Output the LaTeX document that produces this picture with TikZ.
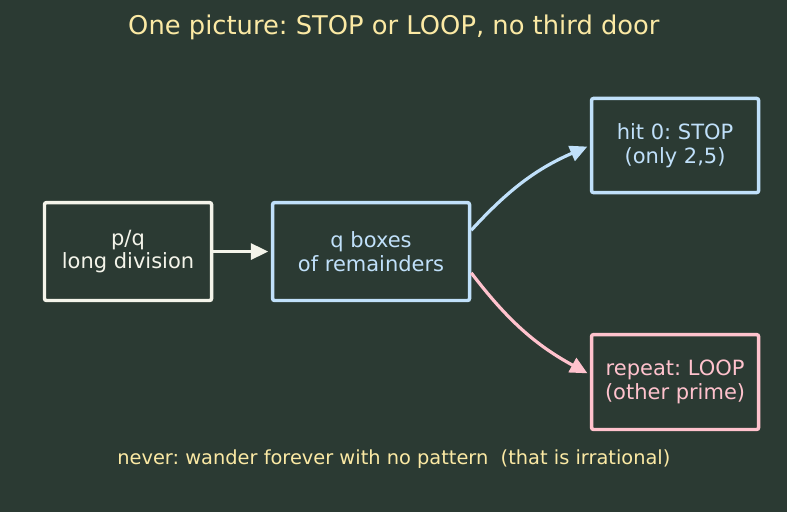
\documentclass[tikz,border=0pt]{standalone}
\usepackage{xcolor}
\usepackage{fontspec}
\setmainfont{DejaVu Sans}
\usepackage{tikz}
\usetikzlibrary{arrows.meta}
\definecolor{board}{HTML}{2B3A33}
\definecolor{chalk}{HTML}{F4F4EA}
\definecolor{sky}{HTML}{C0E0FA}
\definecolor{rose}{HTML}{FFC2CD}
\definecolor{butter}{HTML}{FBE9A4}
\frenchspacing

\begin{document}
\begin{tikzpicture}[box/.style={draw=#1,text=#1,line width=2.6pt,rounded corners=1.5pt,align=center,minimum width=4.42cm,minimum height=2.59cm,font=\fontsize{15.8}{18}\selectfont,inner sep=0pt},edge/.style={-{Triangle[length=13pt,width=12pt]},draw=#1,line width=2.4pt,shorten >=2pt}]
\fill[board] (0,0) rectangle (20.82,13.547);
\useasboundingbox (0,0) rectangle (20.82,13.547);
\node[text=butter,font=\fontsize{19.4}{23}\selectfont] (title) at (10.42,12.83) {One picture: STOP or LOOP, no third door};
\node[box=chalk] (div) at (3.387,6.892) {p/q\\long division};
\node[box=sky,minimum width=5.21cm] (boxes) at (9.816,6.892) {q boxes\\of remainders};
\node[box=sky,minimum height=2.49cm] (stop) at (17.859,9.697) {hit 0: STOP\\(only 2,5)};
\node[box=rose,minimum height=2.51cm] (loop) at (17.859,3.44) {repeat: LOOP\\(other prime)};
\node[text=butter,font=\fontsize{14.6}{17}\selectfont] (note) at (10.42,1.41) {never: wander forever with no pattern~ (that is irrational)};
\draw[edge=chalk] (div) -- (boxes);
\draw[edge=sky] (boxes.12) to[bend left=12] (stop.west);
\draw[edge=rose] (boxes.-12) to[bend right=12] (loop.175);
\end{tikzpicture}
\end{document}
